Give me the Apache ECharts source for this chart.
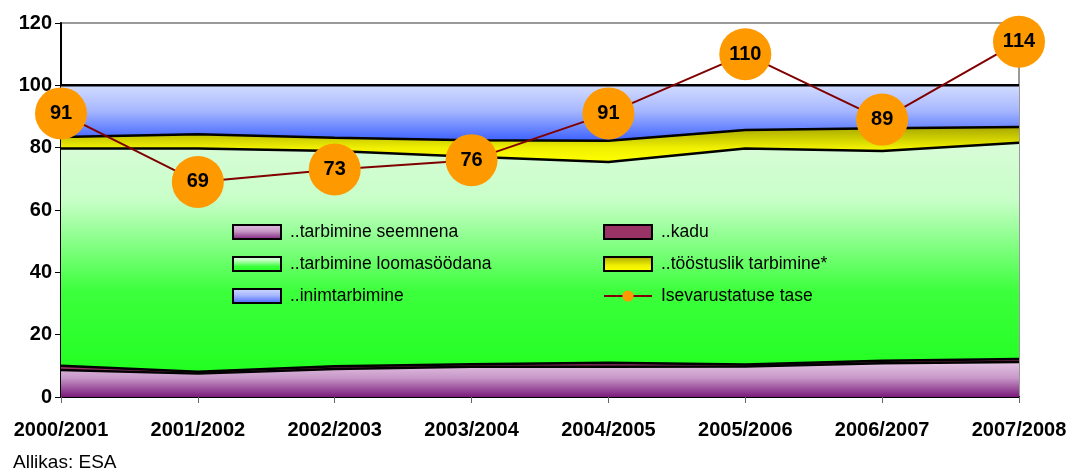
<!DOCTYPE html>
<html>
<head>
<meta charset="utf-8">
<script src="https://cdn.jsdelivr.net/npm/echarts@6/dist/echarts.min.js"></script>
<style>
	html, body { margin: 0; padding: 0; background: #fff; }
	#chart { width: 1075px; height: 470px; }
</style>
</head>
<body>
<div id="chart"></div>
<script>
var years = ['2000/2001', '2001/2002', '2002/2003', '2003/2004', '2004/2005', '2005/2006', '2006/2007', '2007/2008'];
// kasutuse struktuur, %
var seemnena = [8.7, 7.5, 9.0, 9.7, 9.7, 9.8, 10.8, 11.2];
var kadu = [1.3, 0.6, 0.9, 0.8, 1.3, 0.6, 0.8, 1.0];
var loomasoodana = [69.7, 71.6, 69.0, 66.6, 64.4, 69.3, 67.3, 69.4];
var toostuslik = [3.7, 4.6, 4.3, 5.3, 6.8, 6.0, 7.3, 5.0];
var inimtarbimine = [16.6, 15.7, 16.8, 17.6, 17.8, 14.3, 13.8, 13.4];
// isevarustatuse tase
var tase = [91, 69, 73, 76, 91, 110, 89, 114];

var font = 'Liberation Sans, Arial, sans-serif';

function grad(stops) {
	return new echarts.graphic.LinearGradient(0, 0, 0, 1, stops.map(function(s) {
		return { offset: s[0], color: s[1] };
	}));
}

var cSeemnena = grad([[0, '#e4c6e4'], [0.45, '#c898c8'], [1, '#7a1a7a']]);
var cKadu = '#993366';
var cLooma = grad([[0, '#d8fcd8'], [0.25, '#c8fec8'], [0.65, '#3cff3c'], [1, '#22ff22']]);
var cToostus = grad([[0, '#a8a800'], [0.6, '#f0f000'], [1, '#ffff00']]);
var cInim = grad([[0, '#d2dcff'], [0.45, '#a8b8ff'], [1, '#3d62ff']]);

function area(name, data, color) {
	return {
		name: name,
		type: 'line',
		stack: 'kokku',
		data: data,
		showSymbol: false,
		symbol: 'none',
		lineStyle: { color: '#000', width: 2.5 },
		itemStyle: { color: color },
		areaStyle: { color: color, opacity: 1 },
		emphasis: { disabled: true }
	};
}

function legendItem(name, color) {
	return { name: name, icon: 'rect', itemStyle: { color: color, borderColor: '#000', borderWidth: 2 } };
}

var legendText = { fontFamily: font, fontSize: 17.5, color: '#000', lineHeight: 20, padding: [0, 0, 0, 4] };

var myChart = echarts.init(document.getElementById('chart'));
var option = {
	animation: false,
	title: {
		text: 'Allikas: ESA',
		left: 8,
		top: 448,
		textStyle: { fontFamily: font, fontSize: 19, fontWeight: 'normal', color: '#000' }
	},
	graphic: [{
		type: 'rect',
		z: 3,
		shape: { x: 205, y: 214, width: 565, height: 101 },
		style: { fill: '#fff' }
	}],
	legend: [{
		z: 4,
		orient: 'vertical',
		left: 232,
		top: 222,
		padding: 0,
		itemWidth: 48,
		itemHeight: 14,
		itemGap: 12,
		textStyle: legendText,
		data: [
			legendItem('..tarbimine seemnena', cSeemnena),
			legendItem('..tarbimine loomasöödana', cLooma),
			legendItem('..inimtarbimine', cInim)
		]
	}, {
		z: 4,
		orient: 'vertical',
		left: 603,
		top: 222,
		padding: 0,
		itemWidth: 48,
		itemHeight: 14,
		itemGap: 12,
		textStyle: legendText,
		data: [
			legendItem('..kadu', cKadu),
			legendItem('..tööstuslik tarbimine*', cToostus),
			{ name: 'Isevarustatuse tase' }
		]
	}],
	grid: {
		left: 61,
		right: 56,
		top: 23,
		bottom: 73,
		show: true,
		borderColor: '#999',
		borderWidth: 2,
		backgroundColor: '#fff'
	},
	xAxis: {
		type: 'category',
		data: years,
		boundaryGap: false,
		axisLine: { lineStyle: { color: '#000', width: 2 } },
		axisTick: { show: true, length: 6, lineStyle: { color: '#666' } },
		axisLabel: { fontFamily: font, fontSize: 20, fontWeight: 'bold', color: '#000', margin: 23 },
		splitLine: { show: false }
	},
	yAxis: {
		type: 'value',
		min: 0,
		max: 120,
		interval: 20,
		axisLine: { show: true, lineStyle: { color: '#000', width: 2 } },
		axisTick: { show: true, length: 6, lineStyle: { color: '#000' } },
		axisLabel: { fontFamily: font, fontSize: 20, fontWeight: 'bold', color: '#000', margin: 9 },
		splitLine: { show: false }
	},
	series: [
		area('..tarbimine seemnena', seemnena, cSeemnena),
		area('..kadu', kadu, cKadu),
		area('..tarbimine loomasöödana', loomasoodana, cLooma),
		area('..tööstuslik tarbimine*', toostuslik, cToostus),
		area('..inimtarbimine', inimtarbimine, cInim),
		{
			name: 'Isevarustatuse tase',
			type: 'line',
			data: tase,
			clip: false,
			z: 5,
			symbol: 'circle',
			symbolSize: 52,
			lineStyle: { color: '#800000', width: 2 },
			itemStyle: { color: '#ff9900' },
			label: {
				show: true,
				position: 'inside',
				fontFamily: font,
				fontSize: 20,
				fontWeight: 'bold',
				color: '#000'
			}
		}
	]
};

myChart.setOption(option);
</script>
</body>
</html>
